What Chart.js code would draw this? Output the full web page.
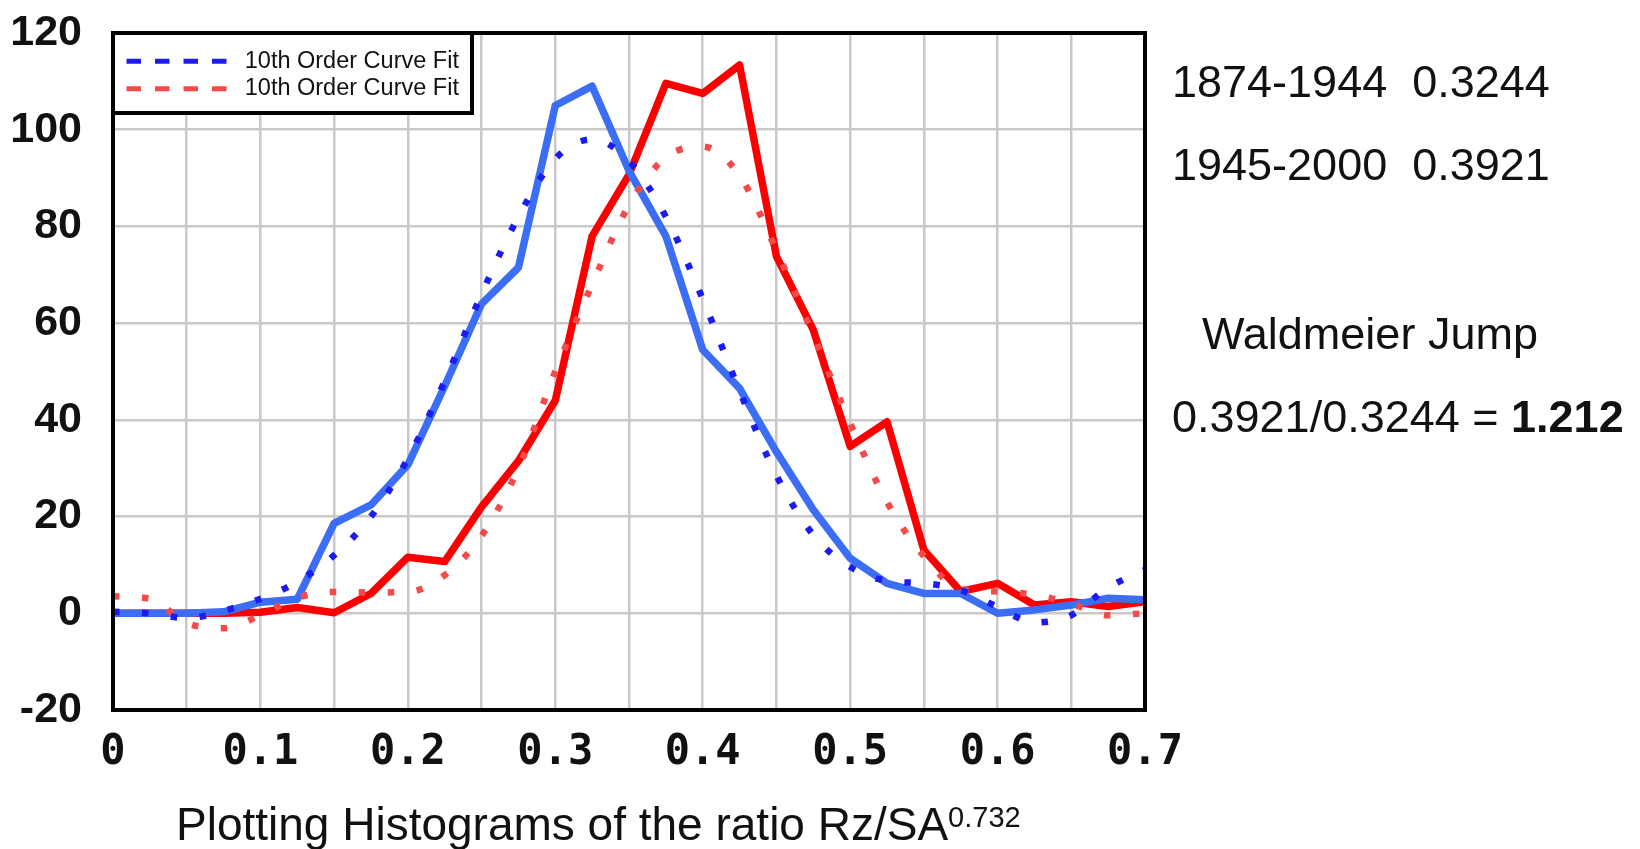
<!DOCTYPE html>
<html lang="en">
<head>
<meta charset="UTF-8">
<title>Waldmeier Jump</title>
<script src="https://cdn.jsdelivr.net/npm/chart.js"></script>
<style>
  body { margin: 0; background: #fff; }
  #wrap { position: relative; width: 1640px; height: 849px; }
  .note { position: absolute; font-family: "Liberation Sans", Arial, sans-serif; font-size: 45px; line-height: 45px; color: #111; white-space: pre; }
  .xtitle { position: absolute; left: 176px; top: 801px; font-family: "Liberation Sans", Arial, sans-serif; font-size: 46px; line-height: 46px; color: #111; white-space: pre; }
  .xtitle sup { font-size: 29px; vertical-align: 13px; line-height: 0; }
</style>
</head>
<body>
<div id="wrap">
  <canvas id="myChart" width="1640" height="849"></canvas>
  <div class="note" style="left:1172px; top:59px">1874-1944  0.3244</div>
  <div class="note" style="left:1172px; top:142px">1945-2000  0.3921</div>
  <div class="note" style="left:1202px; top:311px">Waldmeier Jump</div>
  <div class="note" style="left:1172px; top:394px">0.3921/0.3244 = <b>1.212</b></div>
  <div class="xtitle">Plotting Histograms of the ratio Rz/SA<sup>0.732</sup></div>
</div>
<script>
// ratio Rz/SA^0.732 (bin centres)
const ratio = [0, 0.025, 0.05, 0.075, 0.1, 0.125, 0.15, 0.175, 0.2, 0.225, 0.25, 0.275, 0.3, 0.325, 0.35,
               0.375, 0.4, 0.425, 0.45, 0.475, 0.5, 0.525, 0.55, 0.575, 0.6, 0.625, 0.65, 0.675, 0.7];

// histogram counts
const hist1874 = [0, 0, 0, 0.3, 2.3, 2.9, 18.6, 22.4, 30.7, 47, 64, 71.5, 105, 109, 91.5,
                  78, 54.5, 46.5, 33.4, 21.4, 11.4, 6.2, 4.1, 4.1, 0, 0.7, 1.7, 3.1, 2.8];
const hist1945 = [0, 0, 0, 0, 0.2, 1.2, 0.1, 4.1, 11.6, 10.7, 22, 31.5, 44, 78, 90.7,
                  109.6, 107.5, 113.4, 73.8, 58.6, 34.5, 39.6, 13.1, 4.5, 6.2, 1.7, 2.4, 1.4, 2.4];

// 10th order curve fits
const fit1874 = [0.3, 0, -1, 0.5, 3, 6.5, 12, 20, 32, 48, 66, 82, 94, 98, 93.5,
                 82, 65, 46, 28.5, 16.2, 9.6, 6.7, 6.2, 4.8, 1.3, -1.9, -0.4, 5.3, 9];
const fit1945 = [3.5, 3, -2, -3.1, -0.4, 3.2, 4.4, 4.3, 4.4, 7.9, 16, 30, 50, 68, 84.4,
                 94.3, 96.5, 90.5, 75, 57.5, 39.3, 23, 11.8, 5, 4.5, 3.8, 2, -0.4, 0];

const xLabels = ['0', '0.1', '0.2', '0.3', '0.4', '0.5', '0.6', '0.7'];
const yTicks = [-20, 0, 20, 40, 60, 80, 100, 120];

const toPoints = ys => ratio.map((x, i) => ({ x: x, y: ys[i] }));

const framePlugin = {
    id: 'frame',
    afterLayout(chart) {
        const lg = chart.legend, a = chart.chartArea;
        if (lg) { lg.left = a.left; lg.top = a.top; }
    },
    beforeDraw(chart) {
        const lg = chart.legend;
        if (lg && !lg._boxed) {
            const orig = lg.draw;
            lg.draw = function (area) {
                const c = chart.ctx, a = chart.chartArea;
                c.save();
                c.fillStyle = '#fff';
                c.fillRect(a.left, a.top, 359, 80);
                c.restore();
                orig.call(this, area);
            };
            lg._boxed = true;
        }
    },
    afterDraw(chart) {
        const { ctx, chartArea: a } = chart;
        ctx.save();
        ctx.strokeStyle = '#000';
        ctx.lineWidth = 4;
        ctx.strokeRect(a.left, a.top, a.right - a.left, a.bottom - a.top);
        ctx.strokeRect(a.left, a.top, 359, 80);
        ctx.restore();
    }
};

const ctx = document.getElementById('myChart').getContext('2d');
const myChart = new Chart(ctx, {
    type: 'line',
    data: {
        datasets: [
            {
                label: '10th Order Curve Fit',
                data: toPoints(fit1874),
                borderColor: '#1c1cf0',
                borderWidth: 6.5,
                borderDash: [6.5, 22.5],
                cubicInterpolationMode: 'monotone',
                pointRadius: 0,
                order: 0
            },
            {
                label: '10th Order Curve Fit',
                data: toPoints(fit1945),
                borderColor: '#f54a4a',
                borderWidth: 6.5,
                borderDash: [6.5, 22.5],
                cubicInterpolationMode: 'monotone',
                pointRadius: 0,
                order: 0
            },
            {
                label: '1874-1944',
                data: toPoints(hist1874),
                borderColor: '#3c6ef5',
                borderWidth: 7.5,
                borderJoinStyle: 'round',
                tension: 0,
                pointRadius: 0,
                order: 1
            },
            {
                label: '1945-2000',
                data: toPoints(hist1945),
                borderColor: '#fa0000',
                borderWidth: 7.5,
                borderJoinStyle: 'round',
                tension: 0,
                pointRadius: 0,
                order: 1
            }
        ]
    },
    options: {
        responsive: false,
        animation: false,
        layout: { padding: { top: 33, right: 495, left: 0, bottom: 0 } },
        scales: {
            x: {
                type: 'linear',
                min: ratio[0],
                max: ratio[ratio.length - 1],
                afterBuildTicks: s => { s.ticks = ratio.filter((v, i) => i % 2 === 0).map(v => ({ value: v })); },
                afterFit: s => { s.height = 139; },
                ticks: {
                    autoSkip: false,
                    maxRotation: 0,
                    padding: 18,
                    color: '#111',
                    font: { family: 'DejaVu Sans Mono', weight: 'bold', size: 42 },
                    callback: (v, i) => (i % 2 ? '' : xLabels[i / 2])
                },
                grid: { color: '#c9c9c9', lineWidth: 2.5, drawTicks: false },
                border: { display: false }
            },
            y: {
                min: yTicks[0],
                max: yTicks[yTicks.length - 1],
                afterBuildTicks: s => { s.ticks = yTicks.map(v => ({ value: v })); },
                afterFit: s => { s.width = 113; s.paddingTop = 0; s.paddingBottom = 0; },
                ticks: {
                    padding: 31,
                    color: '#111',
                    font: { family: "'Liberation Sans', Arial, sans-serif", weight: 'bold', size: 43 }
                },
                grid: { color: '#c9c9c9', lineWidth: 2.5, drawTicks: false },
                border: { display: false }
            }
        },
        plugins: {
            tooltip: { enabled: false },
            legend: {
                position: 'chartArea',
                align: 'start',
                fullSize: false,
                title: { display: true, text: ' ', font: { size: 10, lineHeight: 1.25 }, padding: 0 },
                labels: {
                    color: '#111',
                    font: { family: 'Liberation Sans', size: 23.5 },
                    padding: 4,
                    usePointStyle: true,
                    pointStyle: 'line',
                    pointStyleWidth: 116,
                    filter: (item, data) => data.datasets[item.datasetIndex].label.indexOf('Fit') >= 0,
                    generateLabels: chart => Chart.defaults.plugins.legend.labels.generateLabels(chart).map(it => {
                        it.lineDash = [14.5, 14];
                        it.lineDashOffset = 19;
                        it.lineWidth = 5;
                        it.pointStyle = 'line';
                        return it;
                    })
                }
            }
        }
    },
    plugins: [framePlugin]
});
</script>
</body>
</html>
